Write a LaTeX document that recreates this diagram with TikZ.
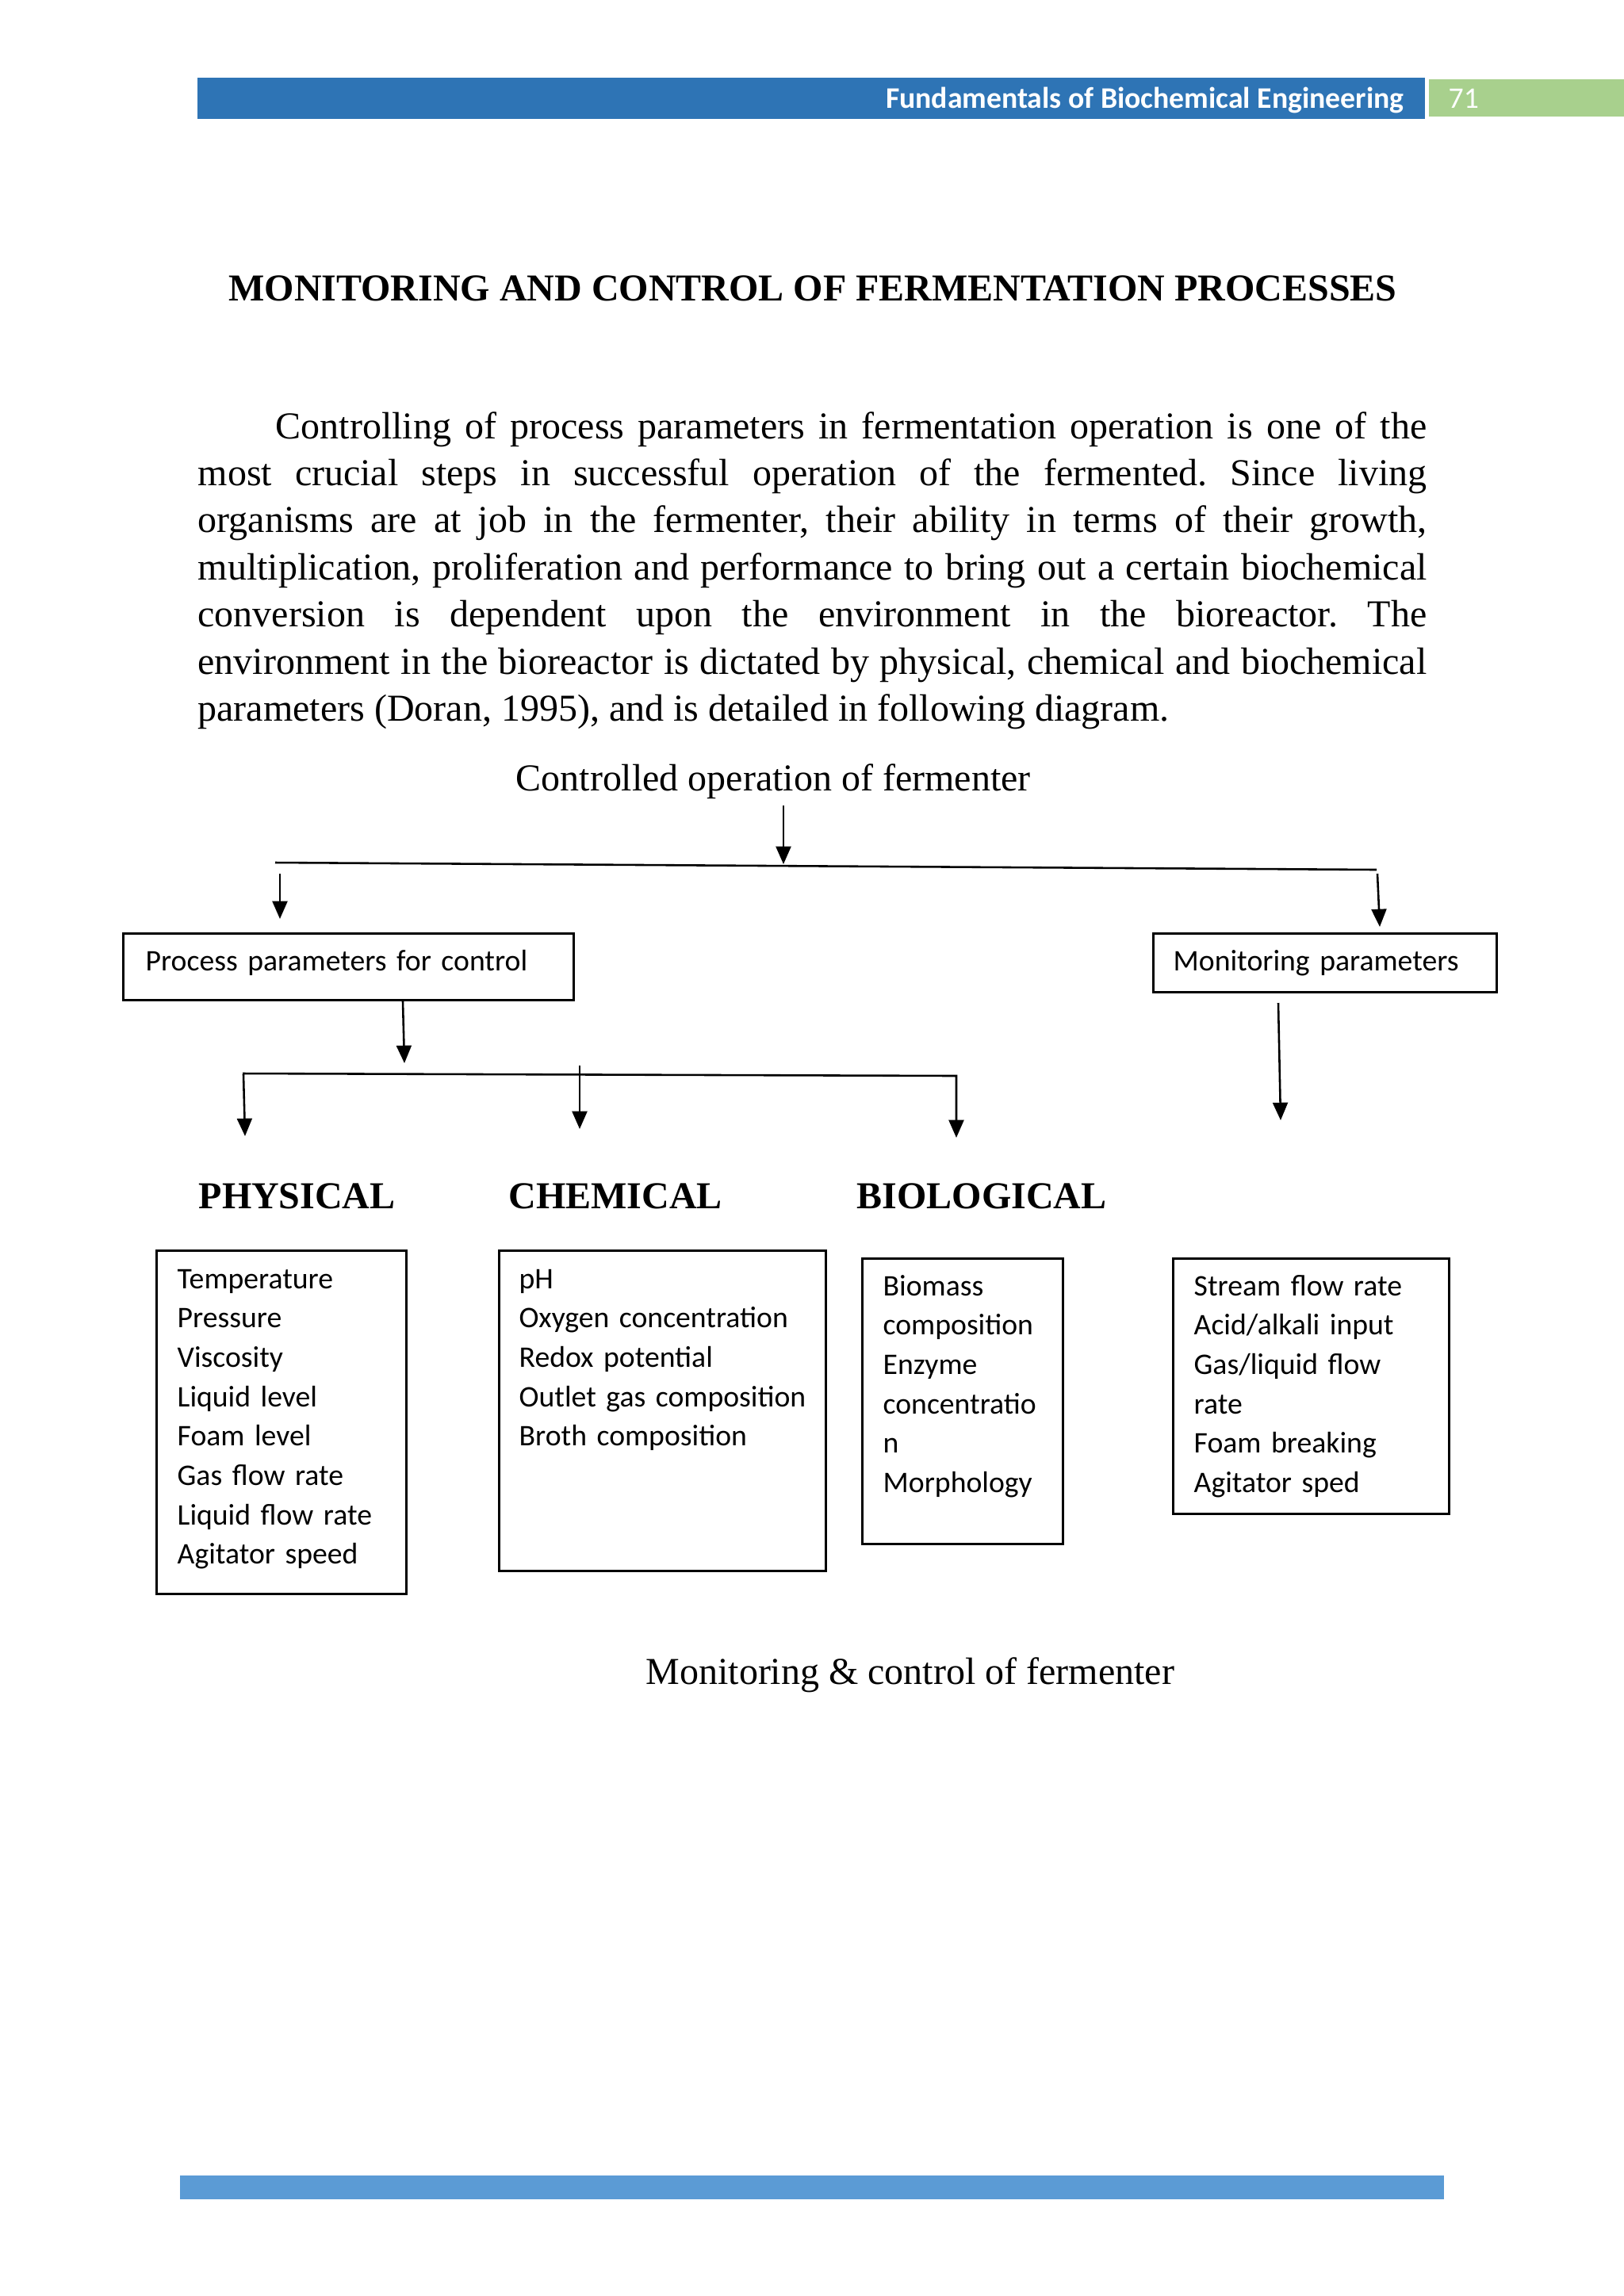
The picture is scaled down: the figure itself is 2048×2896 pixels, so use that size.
\documentclass[tikz,border=0pt]{standalone}
\usepackage{fontspec}
\setmainfont{Liberation Serif}
\newfontfamily\calibri{Carlito}
\usepackage{tikz}
\usetikzlibrary{arrows.meta,positioning,calc}
\definecolor{hdrblue}{HTML}{2E74B5}
\definecolor{hdrgreen}{HTML}{A8D08D}
\definecolor{footblue}{HTML}{5B9BD5}
\newcommand{\pxunit}{0.10254mm}
\frenchspacing

\begin{document}
\begin{tikzpicture}[x=0.10254mm, y=-0.10254mm,
    conn/.style={line width=0.75pt},
    arr/.style={conn, -{Triangle[length=6.5pt,width=5.5pt]}},
    boxframe/.style={draw, line width=0.75pt, anchor=north west, inner sep=0pt},
    lst/.style={font=\calibri\fontsize{11pt}{14.5pt}\selectfont, inner sep=0pt,
      anchor=base west, text width=70mm, align=left},
    cat/.style={font=\bfseries\fontsize{14pt}{17pt}\selectfont, inner sep=0pt, anchor=base west},
    serif/.style={font=\fontsize{14pt}{17.35pt}\selectfont, inner sep=0pt, anchor=base west}]
      \useasboundingbox (0,0) rectangle (2048,2896);
      % Page header and footer
      \fill[hdrblue] (249,98) rectangle (1797,150);
      \fill[hdrgreen] (1802,100) rectangle (2048,147);
      \fill[footblue] (227,2744) rectangle (1821,2774);
      \node[font=\calibri\bfseries\fontsize{11pt}{13pt}\selectfont, text=white,
        inner sep=0pt, anchor=base east] (book) at (1771,136) {Fundamentals of Biochemical Engineering};
      \node[font=\calibri\fontsize{11pt}{13pt}\selectfont, text=white,
        inner sep=0pt, anchor=base west] (pageno) at (1826,136) {71};
      % Title and text
      \node[cat, anchor=base] (title) at (1025,379) {MONITORING AND CONTROL OF FERMENTATION PROCESSES};
      \node[serif, text width=158.9mm, align=justify] (intro) at (249,553)
        {\hyphenpenalty=10000\tolerance=10000\hspace*{10.05mm}Controlling of process parameters in fermentation operation is one of the\linebreak
        most crucial steps in successful operation of the fermented. Since living\linebreak
        organisms are at job in the fermenter, their ability in terms of their growth,\linebreak
        multiplication, proliferation and performance to bring out a certain biochemical\linebreak
        conversion is dependent upon the environment in the bioreactor. The\linebreak
        environment in the bioreactor is dictated by physical, chemical and biochemical\linebreak
        parameters (Doran, 1995), and is detailed in following diagram.};
      % Diagram
      \node[serif] (ctrl) at (650,997) {Controlled operation of fermenter};
      \node[boxframe, minimum width=568*\pxunit, minimum height=84*\pxunit] (procbox) at (154,1176) {};
      \node[lst] (proc) at (183,1224) {Process parameters for control};
      \node[boxframe, minimum width=433*\pxunit, minimum height=74*\pxunit] (monbox) at (1453,1176) {};
      \node[lst] (mon) at (1479,1224) {Monitoring parameters};
      \node[cat] (phys) at (250,1524) {PHYSICAL};
      \node[cat] (chem) at (641,1524) {CHEMICAL};
      \node[cat] (bio) at (1080,1524) {BIOLOGICAL};
      % Lists
      \node[boxframe, minimum width=315*\pxunit, minimum height=433*\pxunit] (physbox) at (196,1576) {};
      \node[lst] (physlist) at (223,1625) {Temperature\\Pressure\\Viscosity\\Liquid level\\Foam level\\Gas flow rate\\Liquid flow rate\\Agitator speed};
      \node[boxframe, minimum width=412*\pxunit, minimum height=404*\pxunit] (chembox) at (628,1576) {};
      \node[lst] (chemlist) at (654,1625) {pH\\Oxygen concentration\\Redox potential\\Outlet gas composition\\Broth composition};
      \node[boxframe, minimum width=253*\pxunit, minimum height=360*\pxunit] (biobox) at (1086,1586) {};
      \node[lst] (biolist) at (1113,1634) {Biomass\\composition\\Enzyme\\concentratio\\n\\Morphology};
      \node[boxframe, minimum width=348*\pxunit, minimum height=322*\pxunit] (monlistbox) at (1478,1586) {};
      \node[lst] (monlist) at (1505,1634) {Stream flow rate\\Acid/alkali input\\Gas/liquid flow\\rate\\Foam breaking\\Agitator sped};
      \node[serif] (caption) at (814,2124) {Monitoring \& control of fermenter};
      % Connector ends
      \coordinate (top0) at (988,1016);
      \coordinate (top1) at (988,1090);
      \coordinate (bus1w) at (347,1088);
      \coordinate (bus1e) at (1736,1097);
      \coordinate (l0) at (353,1102);
      \coordinate (l1) at (353,1159);
      \coordinate (r0) at (1737,1102);
      \coordinate (r1) at (1740,1169);
      \coordinate (p0) at (508,1263);
      \coordinate (p1) at (510,1341);
      \coordinate (bus2w) at (306,1354);
      \coordinate (bus2e) at (1206,1357);
      \coordinate (bus2e1) at (1206,1435);
      \coordinate (b0) at (307,1355);
      \coordinate (b1) at (309,1433);
      \coordinate (m0) at (731,1344);
      \coordinate (m1) at (731,1424);
      \coordinate (s0) at (1612,1265);
      \coordinate (s1) at (1615,1413);
      % Connectors
      \draw[arr] (top0) -- (top1);
      \draw[conn] (bus1w) -- (bus1e);
      \draw[arr] (l0) -- (l1);
      \draw[arr] (r0) -- (r1);
      \draw[arr] (p0) -- (p1);
      \draw[arr] (bus2w) -- (bus2e) -- (bus2e1);
      \draw[arr] (b0) -- (b1);
      \draw[arr] (m0) -- (m1);
      \draw[arr] (s0) -- (s1);
    \end{tikzpicture}
\end{document}
